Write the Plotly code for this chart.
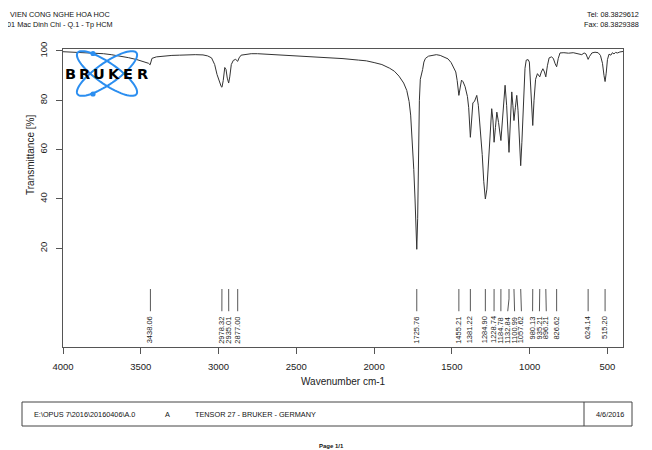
import numpy as np
import plotly.graph_objects as go

# ---------------- data ----------------
wavenumber = [4000, 3950, 3900, 3846, 3790, 3740, 3690, 3632, 3580, 3525, 3480, 3450, 3440, 3434, 3428,
              3400, 3350, 3300, 3250, 3200, 3150, 3100, 3070, 3045, 3025, 3010, 2995, 2983, 2978, 2970,
              2960, 2952, 2944, 2935, 2928, 2918, 2905, 2890, 2877, 2868, 2855, 2830, 2790, 2750, 2700,
              2650, 2600, 2500, 2400, 2300, 2200, 2100, 2050, 2000, 1950, 1900, 1870, 1840, 1810, 1790,
              1775, 1765, 1755, 1745, 1737, 1731, 1725.76, 1720, 1714, 1709, 1703, 1695, 1688, 1680, 1670,
              1650, 1620, 1600, 1575, 1550, 1525, 1505, 1490, 1475, 1466, 1455.21, 1447, 1438, 1428, 1415,
              1400, 1392, 1381.22, 1372, 1365, 1355, 1340, 1330, 1318, 1305, 1295, 1284.9, 1275, 1265, 1255,
              1244, 1236, 1228.74, 1220, 1211, 1200, 1190, 1184.78, 1175, 1165, 1158, 1148, 1140, 1132.84,
              1125, 1115, 1108, 1100.99, 1092, 1083, 1075, 1066, 1057.62, 1050, 1040, 1030, 1022, 1010,
              1002, 995, 988, 980.13, 972, 962, 950, 942, 935.21, 925, 915, 905, 896.21, 886, 875, 860,
              848, 836, 826.62, 816, 805, 780, 750, 720, 690, 665, 650, 638, 630, 624.14, 615, 600, 580,
              560, 545, 532, 522, 515.2, 508, 500, 490, 478, 468, 458, 448, 435, 420, 400]
transmittance = [99.7, 99.6, 99.5, 99.3, 99.2, 98.9, 98.5, 98.0, 97.3, 96.5, 95.7, 95.0, 94.4, 95.5, 97.0,
                 97.6, 98.0, 98.2, 98.3, 98.5, 98.5, 98.4, 98.0, 97.2, 94.5, 90.5, 87.5, 85.6, 85.3, 88.0,
                 93.3, 92.5, 89.0, 87.0, 89.5, 94.5, 96.2, 96.6, 95.8, 97.2, 98.3, 98.6, 98.9, 98.9, 98.7,
                 98.5, 98.3, 98.1, 97.8, 97.4, 96.9, 96.3, 96.0, 95.3, 94.5, 93.0, 91.8, 89.8, 87.0, 84.0,
                 79.5, 74.0, 65.0, 52.0, 40.0, 29.0, 19.6, 32.0, 60.0, 80.0, 88.5, 90.5, 92.5, 95.5, 97.0,
                 97.9, 98.4, 98.5, 98.2, 97.6, 96.8, 95.3, 93.7, 91.5, 88.0, 82.0, 85.0, 88.2, 87.5, 85.5,
                 81.5, 77.0, 65.0, 74.0, 79.0, 79.5, 82.0, 78.0, 69.0, 58.0, 47.0, 40.0, 44.0, 54.0, 65.0,
                 76.6, 72.0, 63.0, 69.0, 75.2, 71.0, 66.0, 63.7, 72.0, 82.0, 86.1, 78.0, 67.0, 58.9,
                 70.0, 83.4, 78.0, 71.8, 77.0, 82.0, 76.0, 62.0, 53.5, 63.0, 82.0, 93.0, 96.3, 96.5,
                 95.5, 88.0, 77.0, 69.8, 80.0, 88.5, 90.8, 90.2, 89.5, 91.5, 92.8, 91.5, 89.5, 94.0, 97.2, 97.6,
                 97.0, 94.8, 93.6, 97.0, 99.2, 99.3, 99.1, 99.3, 99.0, 98.5, 99.2, 98.8, 97.5, 96.6, 97.8, 99.2, 99.5,
                 99.3, 98.2, 95.0, 90.0, 87.6, 91.0, 96.5, 98.7, 98.3, 99.3, 98.8, 99.4, 99.2, 99.6, 99.8]

peak_positions = [3438.06, 2978.32, 2935.01, 2877.00, 1725.76, 1455.21, 1381.22, 1284.90, 1228.74,
                  1184.78, 1132.84, 1100.99, 1057.62, 980.13, 935.21, 896.21, 826.62, 624.14, 515.20]

x_tick_values = [4000, 3500, 3000, 2500, 2000, 1500, 1000, 500]
y_tick_values = [20, 40, 60, 80, 100]

header_left = ["VIEN CONG NGHE HOA HOC", "01 Mac Dinh Chi - Q.1 - Tp HCM"]
header_right = ["Tel: 08.3829612", "Fax: 08.3829388"]
footer_texts = ["E:\\OPUS 7\\2016\\20160406\\A.0", "A", "TENSOR 27 - BRUKER - GERMANY", "4/6/2016"]
logo_letters = list("BRUKER")

# ---------------- layout geometry (window pixels) ----------------
WIN_W, WIN_H = 652, 450
PAGE_OFF = 8                           # default body margin of the html page
W, H = WIN_W - PAGE_OFF, WIN_H - PAGE_OFF
L, R, T, B = 63, 623, 49, 347          # plot area in window pixels
X_RANGE = [4000, 400]
Y_RANGE = [-20, 100.8]
FONT = "Liberation Sans, Arial, sans-serif"
LINE_COL = "#333333"
AXIS_COL = "#555555"


def px(x, y):
    """window pixel position -> paper coordinates"""
    return (x - L) / (R - L), (B - y) / (B - T)


# ---------------- label spreading (cluster centering) ----------------
def spread_labels(peaks, gap):
    groups = [[p] for p in sorted(peaks, reverse=True)]

    def place(g):
        c = float(np.mean(g))
        n = len(g)
        return [c + gap * ((n - 1) / 2 - i) for i in range(n)]

    changed = True
    while changed:
        changed = False
        for i in range(len(groups) - 1):
            a = place(groups[i])
            b = place(groups[i + 1])
            if a[-1] - b[0] < gap - 1e-9:
                groups[i] = groups[i] + groups[i + 1]
                del groups[i + 1]
                changed = True
                break
    out = {}
    for g in groups:
        for p, pos in zip(g, place(g)):
            out[p] = pos
    return out


label_pos = spread_labels(peak_positions, 44)

fig = go.Figure()

fig.add_trace(go.Scatter(x=wavenumber, y=transmittance, mode="lines",
                         line=dict(color=LINE_COL, width=1), hoverinfo="skip"))

# leader lines for peak labels
lx, ly = [], []
for p in peak_positions:
    lx += [p, p, label_pos[p], None]
    ly += [3.5, -0.5, -5.5, None]
fig.add_trace(go.Scatter(x=lx, y=ly, mode="lines",
                         line=dict(color="#444444", width=0.9), hoverinfo="skip"))

annotations = []
for p in peak_positions:
    annotations.append(dict(x=label_pos[p], y=-6.8, xref="x", yref="y", text=f"{p:.2f}",
                            textangle=-90, xanchor="center", yanchor="top", showarrow=False,
                            font=dict(family=FONT, size=7.5, color="#222")))

# axis titles
ax, ay = px((L + R) / 2, 381)
annotations.append(dict(x=ax, y=ay, xref="paper", yref="paper", text="Wavenumber cm-1",
                        showarrow=False, xanchor="center", yanchor="middle",
                        font=dict(family=FONT, size=10, color="#222")))
ax, ay = px(30, 155)
annotations.append(dict(x=ax, y=ay, xref="paper", yref="paper", text="Transmittance [%]",
                        textangle=-90, showarrow=False, xanchor="center", yanchor="middle",
                        font=dict(family=FONT, size=10, color="#222")))

# header
for i, t in enumerate(header_left):
    ax, ay = px(60, 14.5 + 10 * i)
    annotations.append(dict(x=ax, y=ay, xref="paper", yref="paper", text=t, showarrow=False,
                            xanchor="center", yanchor="middle",
                            font=dict(family=FONT, size=7.3, color="#111")))
for i, t in enumerate(header_right):
    ax, ay = px(641, 14.5 + 10 * i)
    annotations.append(dict(x=ax, y=ay, xref="paper", yref="paper", text=t, showarrow=False,
                            xanchor="right", yanchor="middle",
                            font=dict(family=FONT, size=7.3, color="#111")))

# footer box texts
for t, xp in zip(footer_texts, [32, 163, 193, 594]):
    ax, ay = px(xp, 414)
    annotations.append(dict(x=ax, y=ay, xref="paper", yref="paper", text=t, showarrow=False,
                            xanchor="left", yanchor="middle",
                            font=dict(family=FONT, size=7.3, color="#111")))
ax, ay = px(331, 446)
annotations.append(dict(x=ax, y=ay, xref="paper", yref="paper", text="<b>Page 1/1</b>",
                        showarrow=False, xanchor="center", yanchor="middle",
                        font=dict(family=FONT, size=6, color="#111")))

# logo letters
for i, ch in enumerate(logo_letters):
    ax, ay = px(70.5 + i * 14.4, 74)
    annotations.append(dict(x=ax, y=ay, xref="paper", yref="paper", text=f"<b>{ch}</b>",
                            showarrow=False, xanchor="center", yanchor="middle",
                            font=dict(family="DejaVu Sans, sans-serif", size=14.5, color="#000")))

shapes = []
# footer box
x0, y0 = px(22, 402)
x1, y1 = px(632, 426)
shapes.append(dict(type="rect", xref="paper", yref="paper", x0=x0, y0=y0, x1=x1, y1=y1,
                   line=dict(color="#444", width=1)))
xd, _ = px(584, 0)
shapes.append(dict(type="line", xref="paper", yref="paper", x0=xd, x1=xd, y0=y0, y1=y1,
                   line=dict(color="#444", width=1)))

# atom logo ellipses
LOGO_BLUE = "#2b8ef0"
t = np.linspace(0, 2 * np.pi, 80)
for ang in (35, -35):
    th = np.deg2rad(ang)
    ex = 107 + 36 * np.cos(t) * np.cos(th) - 10.5 * np.sin(t) * np.sin(th)
    ey = 73.5 + 36 * np.cos(t) * np.sin(th) + 10.5 * np.sin(t) * np.cos(th)
    pts = [px(a, b) for a, b in zip(ex, ey)]
    path = "M " + " L ".join(f"{a:.5f},{b:.5f}" for a, b in pts) + " Z"
    shapes.append(dict(type="path", path=path, xref="paper", yref="paper",
                       line=dict(color=LOGO_BLUE, width=2), layer="above"))
for cx, cy in [(93, 53.5), (93, 94)]:
    a0, b0 = px(cx - 2.6, cy - 2.6)
    a1, b1 = px(cx + 2.6, cy + 2.6)
    shapes.append(dict(type="circle", xref="paper", yref="paper", x0=a0, y0=b1, x1=a1, y1=b0,
                       fillcolor=LOGO_BLUE, line=dict(color=LOGO_BLUE, width=0), layer="above"))

fig.update_layout(
    width=W, height=H,
    margin=dict(l=L - PAGE_OFF, r=WIN_W - R, t=T - PAGE_OFF, b=WIN_H - B),
    plot_bgcolor="white", paper_bgcolor="white",
    showlegend=False,
    font=dict(family=FONT, color="#222"),
    annotations=annotations,
    shapes=shapes,
    xaxis=dict(range=X_RANGE, tickvals=x_tick_values, ticktext=[str(v) for v in x_tick_values],
               ticks="outside", ticklen=6, tickcolor=AXIS_COL, showline=True, linecolor=AXIS_COL,
               linewidth=1, mirror=True, showgrid=False, zeroline=False,
               tickfont=dict(family=FONT, size=9.5, color="#222"), ticklabelstandoff=5),
    yaxis=dict(range=Y_RANGE, tickvals=y_tick_values, ticktext=[str(v) for v in y_tick_values],
               tickangle=-90, ticks="outside", ticklen=6, tickcolor=AXIS_COL, showline=True,
               linecolor=AXIS_COL, linewidth=1, mirror=True, showgrid=False, zeroline=False,
               tickfont=dict(family=FONT, size=9.5, color="#222"), ticklabelstandoff=5),
)

fig.write_html("out.html")
